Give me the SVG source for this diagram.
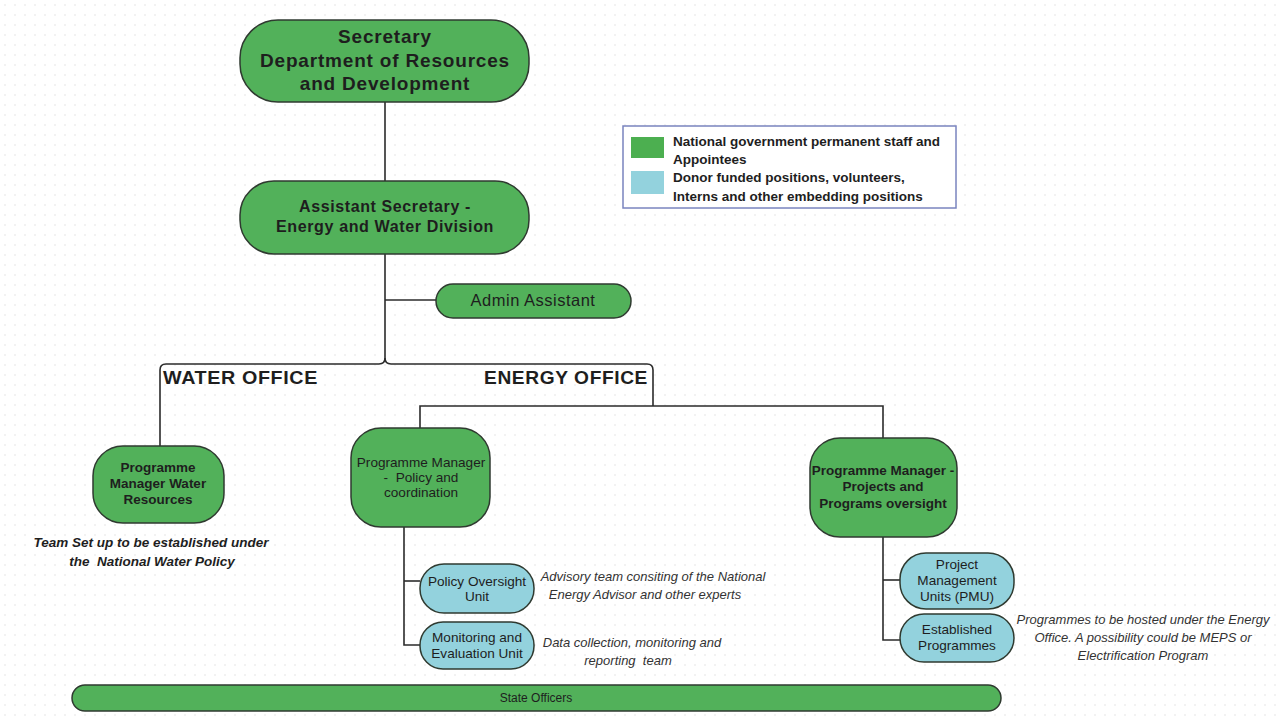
<svg xmlns="http://www.w3.org/2000/svg" width="1278" height="722" viewBox="0 0 1278 722">
<defs>
<pattern id="dots" x="0" y="0" width="10" height="10" patternUnits="userSpaceOnUse">
<circle cx="5" cy="5" r="0.8" fill="#e2e2e2"/>
</pattern>
<style>
.g{fill:#52b15a;stroke:#2f3a30;stroke-width:1.5}
.b{fill:#93d2dd;stroke:#2f3a30;stroke-width:1.5}
.c{fill:none;stroke:#2b2b2b;stroke-width:1.6}
text{font-family:"Liberation Sans",Arial,sans-serif;fill:#1e1e1e;text-anchor:middle}
.h1{font-size:19px;font-weight:bold;letter-spacing:0.8px}
.h2{font-size:16px;font-weight:bold;letter-spacing:0.6px}
.n{font-size:13.5px;font-weight:bold}
.m{font-size:13.6px}
.it{font-size:13px;font-style:italic;fill:#333}
.itb{font-size:13.5px;font-style:italic;font-weight:bold}
.off{font-size:19px;font-weight:bold;text-anchor:start;letter-spacing:0.6px}
.lg{font-size:13.5px;font-weight:bold;text-anchor:start}
</style>
</defs>
<rect width="1278" height="722" fill="#ffffff"/>
<rect width="1278" height="722" fill="url(#dots)"/>

<g id="connectors">
<line class="c" x1="385" y1="102" x2="385" y2="181"/>
<line class="c" x1="385" y1="254" x2="385" y2="358"/>
<line class="c" x1="385" y1="300" x2="436" y2="300"/>
<path class="c" d="M385,358 Q385,364 379,364 L166,364 Q160,364 160,370 L160,446"/>
<path class="c" d="M385,358 Q385,364 391,364 L647,364 Q653,364 653,370 L653,406"/>
<path class="c" d="M420,428 L420,406 L883,406 L883,438"/>
<path class="c" d="M404,527 L404,645 L420,645"/>
<line class="c" x1="404" y1="581" x2="420" y2="581"/>
<path class="c" d="M883,537 L883,640 L900,640"/>
<line class="c" x1="883" y1="580" x2="900" y2="580"/>
</g>

<g id="secretary">
<rect class="g" x="240" y="20" width="289" height="82" rx="38"/>
<text class="h1" x="385" y="43">Secretary</text>
<text class="h1" x="385" y="67" textLength="250" lengthAdjust="spacingAndGlyphs">Department of Resources</text>
<text class="h1" x="385" y="90">and Development</text>
</g>

<g id="assistant-secretary">
<rect class="g" x="240" y="181" width="289" height="73" rx="34"/>
<text class="h2" x="385" y="212">Assistant Secretary -</text>
<text class="h2" x="385" y="232" textLength="218" lengthAdjust="spacingAndGlyphs">Energy and Water Division</text>
</g>

<g id="admin-assistant">
<rect class="g" x="436" y="284" width="195" height="34" rx="17"/>
<text x="533" y="306" style="font-size:16.5px;letter-spacing:0.5px">Admin Assistant</text>
</g>

<g id="office-labels">
<text class="off" x="163" y="384" textLength="155" lengthAdjust="spacingAndGlyphs">WATER OFFICE</text>
<text class="off" x="484" y="384" textLength="164" lengthAdjust="spacingAndGlyphs">ENERGY OFFICE</text>
</g>

<g id="pm-water">
<rect class="g" x="93" y="446" width="131" height="77" rx="30"/>
<text class="n" x="158" y="472">Programme</text>
<text class="n" x="158" y="488">Manager Water</text>
<text class="n" x="158" y="504">Resources</text>
</g>
<g id="water-note">
<text class="itb" x="151" y="547">Team Set up to be established under</text>
<text class="itb" x="152" y="566">the &#160;National Water Policy</text>
</g>

<g id="pm-policy">
<rect class="g" x="351" y="428" width="139" height="99" rx="30"/>
<text class="m" x="421" y="467">Programme Manager</text>
<text class="m" x="421" y="482">- &#160;Policy and</text>
<text class="m" x="421" y="497">coordination</text>
</g>

<g id="policy-oversight">
<rect class="b" x="420" y="564" width="114" height="49" rx="24"/>
<text class="m" x="477" y="586">Policy Oversight</text>
<text class="m" x="477" y="601">Unit</text>
</g>
<g id="monitoring">
<rect class="b" x="420" y="622" width="114" height="47" rx="23"/>
<text class="m" x="477" y="642">Monitoring and</text>
<text class="m" x="477" y="658">Evaluation Unit</text>
</g>
<g id="policy-notes">
<text class="it" x="653" y="581">Advisory team consiting of the National</text>
<text class="it" x="645" y="599">Energy Advisor and other experts</text>
<text class="it" x="632" y="647">Data collection, monitoring and</text>
<text class="it" x="628" y="665">reporting &#160;team</text>
</g>

<g id="pm-projects">
<rect class="g" x="810" y="438" width="147" height="99" rx="30"/>
<text class="n" x="883" y="475">Programme Manager -</text>
<text class="n" x="883" y="491">Projects and</text>
<text class="n" x="883" y="508">Programs oversight</text>
</g>

<g id="pmu">
<rect class="b" x="900" y="553" width="114" height="56" rx="26"/>
<text class="m" x="957" y="569">Project</text>
<text class="m" x="957" y="585">Management</text>
<text class="m" x="957" y="601">Units (PMU)</text>
</g>
<g id="established">
<rect class="b" x="900" y="614" width="114" height="48" rx="24"/>
<text class="m" x="957" y="634">Established</text>
<text class="m" x="957" y="650">Programmes</text>
</g>
<g id="programmes-note">
<text class="it" x="1143" y="624">Programmes to be hosted under the Energy</text>
<text class="it" x="1143" y="642">Office. A possibility could be MEPS or</text>
<text class="it" x="1143" y="660">Electrification Program</text>
</g>

<g id="state-officers">
<rect class="g" x="72" y="685" width="929" height="26" rx="13"/>
<text x="536" y="702" style="font-size:12px;font-family:'Liberation Sans Narrow','Liberation Sans',sans-serif">State Officers</text>
</g>

<g id="legend">
<rect x="623" y="126" width="333" height="82" fill="#ffffff" stroke="#7a84bf" stroke-width="1.5"/>
<rect x="631" y="137" width="33" height="21" fill="#4caf50"/>
<rect x="631" y="171" width="33" height="23" fill="#93d2dd"/>
<text class="lg" x="673" y="146">National government permanent staff and</text>
<text class="lg" x="673" y="164">Appointees</text>
<text class="lg" x="673" y="182">Donor funded positions, volunteers,</text>
<text class="lg" x="673" y="201">Interns and other embedding positions</text>
</g>
</svg>
